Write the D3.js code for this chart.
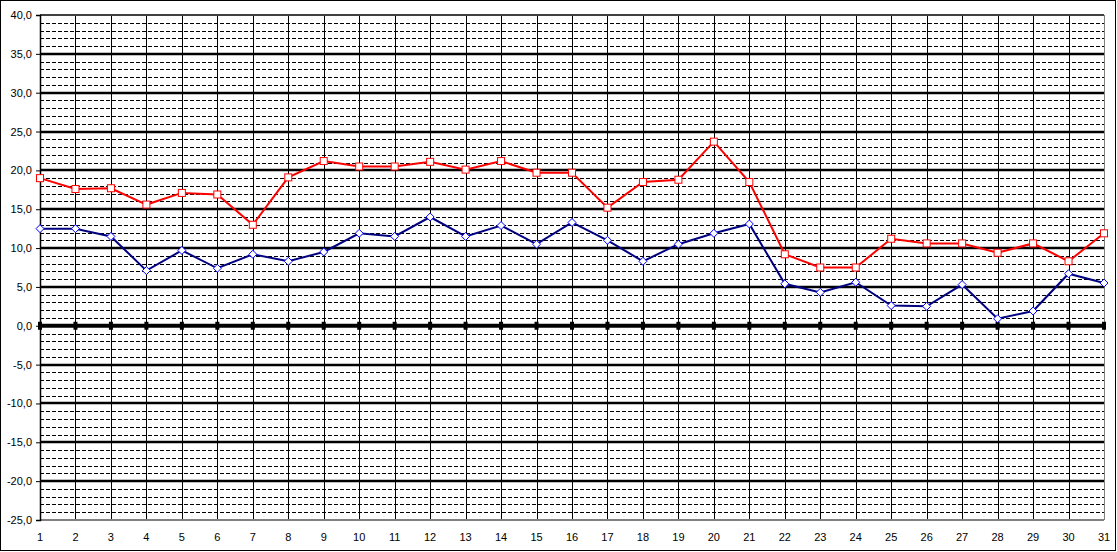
<!DOCTYPE html>
<html><head><meta charset="utf-8">
<script src="https://cdn.jsdelivr.net/npm/d3@7"></script>
<style>body{margin:0;background:#fff}svg{display:block}text{font-family:"Liberation Sans",Arial,sans-serif;font-size:11px;fill:#000}</style>
</head><body><svg id="c" width="1117" height="552"></svg>
<script>
const days = d3.range(1, 32);
const maxTemp = [19.0,17.6,17.7,15.6,17.1,16.9,13.0,19.1,21.2,20.5,20.5,21.1,20.1,21.2,19.7,19.7,15.2,18.5,18.8,23.7,18.5,9.2,7.5,7.5,11.2,10.6,10.6,9.4,10.6,8.3,11.9];
const minTemp = [12.5,12.5,11.5,7.1,9.7,7.4,9.2,8.3,9.5,11.9,11.5,14.0,11.5,12.9,10.5,13.3,11.0,8.3,10.5,11.9,13.1,5.4,4.3,5.6,2.6,2.5,5.3,0.9,1.9,6.7,5.5];
const yMajorTicks = [40,35,30,25,20,15,10,5,0,-5,-10,-15,-20,-25];

const svg = d3.select("#c");
const L = 40, R = 1104, T = 15, B = 520;
const x = d3.scaleLinear().domain([1, 31]).range([L, R]);
const y = d3.scaleLinear().domain([-25, 40]).range([B, T]);
const fmt = v => d3.format(".1f")(v).replace(".", ",").replace("−", "-");

// outer frame
svg.append("rect").attr("x",0.5).attr("y",0.5).attr("width",1115).attr("height",550)
  .attr("fill","#fff").attr("stroke","#000").attr("stroke-width",1);

const g = svg.append("g");
// minor dashed gridlines
const minor = d3.range(-25, 41).filter(v => v % 5 !== 0);
g.selectAll(".mn").data(minor).join("line")
  .attr("x1",L).attr("x2",R).attr("y1",d=>Math.round(y(d))+0.5).attr("y2",d=>Math.round(y(d))+0.5)
  .attr("stroke","#000").attr("stroke-width",1).attr("stroke-dasharray","4,2");
// vertical lines
g.selectAll(".vl").data(days).join("line")
  .attr("x1",d=>Math.round(x(d))+0.5).attr("x2",d=>Math.round(x(d))+0.5).attr("y1",T).attr("y2",B)
  .attr("stroke",d=>d===31?"#808080":"#000").attr("stroke-width",1);
// major gridlines
g.selectAll(".mj").data(yMajorTicks.filter(v=>v!==0 && v!==-25 && v!==40)).join("line")
  .attr("x1",L).attr("x2",R).attr("y1",d=>Math.round(y(d))).attr("y2",d=>Math.round(y(d)))
  .attr("stroke","#000").attr("stroke-width",2.5);
// top & bottom border
g.append("line").attr("x1",L).attr("x2",R).attr("y1",y(40)).attr("y2",y(40)).attr("stroke","#404040").attr("stroke-width",2);
g.append("line").attr("x1",L).attr("x2",R).attr("y1",y(-25)).attr("y2",y(-25)).attr("stroke","#808080").attr("stroke-width",2);

// left axis
const yAxis = d3.axisLeft(y).tickValues(yMajorTicks).tickSize(4).tickPadding(4).tickFormat(fmt);
const ya = svg.append("g").attr("transform",`translate(${L},0)`).call(yAxis);
ya.select(".domain").attr("stroke","#000").attr("stroke-width",1.5);
ya.selectAll(".tick line").attr("stroke","#000");
ya.selectAll("text").style("font-family","'Liberation Sans',Arial,sans-serif").style("font-size","11px").attr("fill","#000");

// zero axis with ticks
svg.append("line").attr("x1",L).attr("x2",R).attr("y1",y(0)).attr("y2",y(0)).attr("stroke","#000").attr("stroke-width",4);
svg.selectAll(".zt").data(days).join("rect")
  .attr("x",d=>x(d)-2).attr("y",y(0)-4).attr("width",4).attr("height",8).attr("fill","#000");

// x labels
svg.selectAll(".xl").data(days).join("text")
  .attr("x",d=>x(d)).attr("y",541).attr("text-anchor","middle").text(d=>d);

// lines
const line = d3.line().x((d,i)=>x(days[i])).y(d=>y(d));
svg.append("path").datum(maxTemp).attr("d",line).attr("fill","none").attr("stroke","#ff0000").attr("stroke-width",2);
svg.append("path").datum(minTemp).attr("d",line).attr("fill","none").attr("stroke","#000080").attr("stroke-width",2);

// markers
svg.selectAll(".mk").data(maxTemp).join("rect")
  .attr("x",(d,i)=>x(days[i])-3.5).attr("y",d=>y(d)-3.5).attr("width",7).attr("height",7)
  .attr("fill","#fff").attr("stroke","#ff0000").attr("stroke-width",1);
svg.selectAll(".md").data(minTemp).join("path")
  .attr("d",(d,i)=>{const cx=x(days[i]),cy=y(d);return `M${cx},${cy-4}L${cx+4},${cy}L${cx},${cy+4}L${cx-4},${cy}Z`;})
  .attr("fill","#fff").attr("stroke","#0000ff").attr("stroke-width",1);
</script></body></html>
